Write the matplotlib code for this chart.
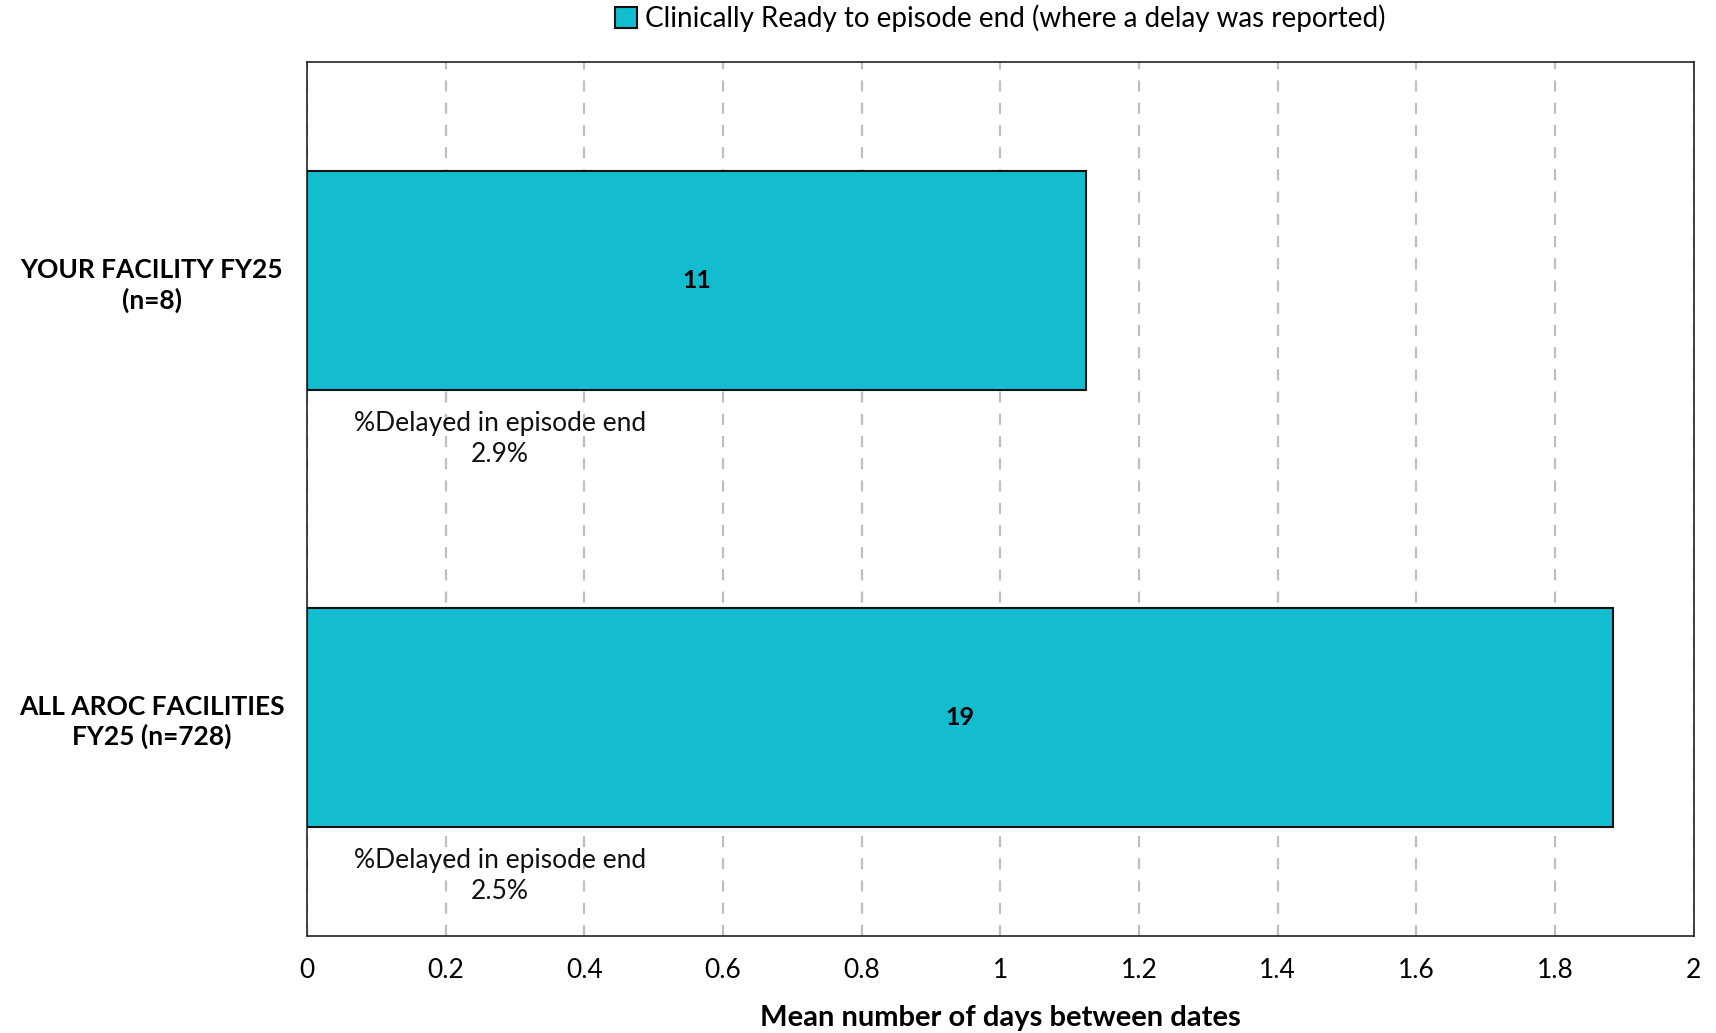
import matplotlib.pyplot as plt
import numpy as np

# data
categories = ['YOUR FACILITY FY25\n(n=8)', 'ALL AROC FACILITIES\nFY25 (n=728)']
mean_days = [1.124, 1.883]
bar_labels = ['11', '19']
delayed_pct = ['2.9%', '2.5%']
series_name = 'Clinically Ready to episode end (where a delay was reported)'
xticks = [0, 0.2, 0.4, 0.6, 0.8, 1, 1.2, 1.4, 1.6, 1.8, 2]
xtick_labels = ['0', '0.2', '0.4', '0.6', '0.8', '1', '1.2', '1.4', '1.6', '1.8', '2']

plt.rcParams['font.family'] = ['Lato', 'DejaVu Sans']
bar_color = '#13BDCF'

fig = plt.figure(figsize=(17.16, 10.33), dpi=100)
ax = fig.add_axes([0.179, 0.094, 0.808, 0.846])

y = np.arange(len(categories))
ax.barh(y, mean_days, height=0.5, color=bar_color, edgecolor='#111111',
        linewidth=1.5, zorder=3, label=series_name)

# value labels inside bars
for yi, v, lab in zip(y, mean_days, bar_labels):
    ax.text(v / 2, yi, lab, ha='center', va='center', fontsize=18,
            fontweight='bold', color='black', zorder=4)

# % delayed notes under each bar
for yi, p in zip(y, delayed_pct):
    ax.text(0.278, yi + 0.362, '%Delayed in episode end\n' + p, ha='center',
            va='center', fontsize=19, color='#111111', linespacing=1.3, zorder=4)

ax.set_xlim(0, 2)
ax.set_ylim(1.5, -0.5)
ax.set_yticks(y)
ax.set_yticklabels(categories, fontsize=19, fontweight='bold', ha='center',
                   linespacing=1.25)
ax.tick_params(axis='y', length=0, pad=112)
ax.set_xticks(xticks)
ax.set_xticklabels(xtick_labels, fontsize=19)
ax.tick_params(axis='x', length=0, pad=16)
ax.set_xlabel('Mean number of days between dates', fontsize=21,
              fontweight='bold', labelpad=16)

ax.grid(axis='x', linestyle=(0, (5, 5)), color='#BFBFBF', linewidth=1.6, zorder=0)
for s in ax.spines.values():
    s.set_color('#222222')
    s.set_linewidth(1.2)

fig.legend(*ax.get_legend_handles_labels(), loc='center',
           bbox_to_anchor=(0.583, 0.982), frameon=False,
           fontsize=20, handlelength=0.8, handleheight=0.8, handletextpad=0.3)

fig.savefig('out.png', dpi=100)
